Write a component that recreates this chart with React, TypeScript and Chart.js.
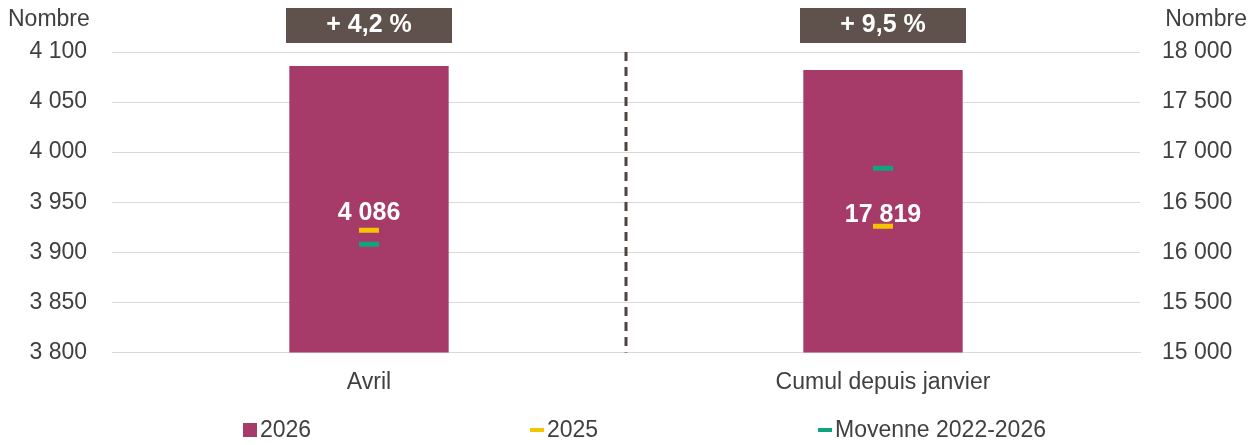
import React, { useEffect, useRef } from "react";
import { Chart, registerables } from "chart.js";
Chart.register(...registerables);

const categories = ["Avril", "Cumul depuis janvier"];
const values2026Left = [4086, null];
const values2026Right = [null, 17819];
const values2025Left = [3922, null];
const values2025Right = [null, 16260];
const avgLeft = [3908, null];
const avgRight = [null, 16840];
const labels2026 = ["4 086", "17 819"];
const evolutions = ["+ 4,2 %", "+ 9,5 %"];
const legendItems = [
  { label: "2026", color: "#a63a69", kind: "box" },
  { label: "2025", color: "#f5c400", kind: "dash" },
  { label: "Moyenne 2022-2026", color: "#10a37f", kind: "dash" },
];

const fmt = (v: number) => v.toLocaleString("fr-FR").replace(/\u202f|\u00a0/g, " ");
const FONT = "Arial, 'Liberation Sans', sans-serif";

export default function App() {
  const ref = useRef<HTMLCanvasElement>(null);
  useEffect(() => {
    const plugin = {
      id: "deco",
      afterDatasetsDraw(chart: any) {
        const { ctx, chartArea, scales } = chart;
        const x = scales.x;
        ctx.save();
        const mid = (x.getPixelForValue(0) + x.getPixelForValue(1)) / 2;
        ctx.strokeStyle = "#4d4440";
        ctx.lineWidth = 3;
        ctx.setLineDash([9, 6]);
        ctx.beginPath();
        ctx.moveTo(mid, chartArea.top);
        ctx.lineTo(mid, chartArea.bottom);
        ctx.stroke();
        ctx.setLineDash([]);
        categories.forEach((_, i) => {
          const cx = x.getPixelForValue(i);
          ctx.fillStyle = "#5f524c";
          ctx.fillRect(cx - 83, -3, 166, 38);
          ctx.fillStyle = "#fff";
          ctx.font = `bold 25px ${FONT}`;
          ctx.textAlign = "center";
          ctx.textBaseline = "middle";
          ctx.fillText(evolutions[i], cx, 17);
        });
        ctx.fillStyle = "#404040";
        ctx.font = `23px ${FONT}`;
        ctx.textBaseline = "middle";
        ctx.textAlign = "left";
        ctx.fillText("Nombre", 0, 12);
        ctx.textAlign = "right";
        ctx.fillText("Nombre", chart.width, 12);
        const lx = [235, 522, 810];
        const ly = 422;
        legendItems.forEach((it, i) => {
          ctx.fillStyle = it.color;
          if (it.kind === "box") ctx.fillRect(lx[i], ly - 7, 14, 14);
          else ctx.fillRect(lx[i], ly - 2, 14, 4);
          ctx.fillStyle = "#404040";
          ctx.textAlign = "left";
          ctx.font = `23px ${FONT}`;
          ctx.fillText(it.label, lx[i] + 17, ly + 1);
        });
        ctx.restore();
      },
    };
    const labelPlugin = {
      id: "barLabels",
      afterDatasetDraw(chart: any, args: any) {
        if (args.index !== 0) return;
        const { ctx, scales } = chart;
        ctx.save();
        ctx.fillStyle = "#fff";
        ctx.font = `bold 25px ${FONT}`;
        ctx.textAlign = "center";
        ctx.textBaseline = "middle";
        ctx.fillText(labels2026[0], scales.x.getPixelForValue(0), scales.y.getPixelForValue(3939));
        ctx.fillText(labels2026[1], scales.x.getPixelForValue(1), scales.y1.getPixelForValue(16370));
        ctx.restore();
      },
    };
    const marker = (data: any[], color: string, axis: string) => ({
      type: "line" as const,
      data,
      yAxisID: axis,
      order: 0,
      showLine: false,
      pointStyle: "line",
      pointRadius: 10,
      pointBorderWidth: 5,
      borderColor: color,
      backgroundColor: color,
      pointHoverRadius: 10,
    });
    const chart = new Chart(ref.current!, {
      type: "bar",
      data: {
        labels: categories,
        datasets: [
          { data: values2026Left, yAxisID: "y", order: 2, backgroundColor: "#a63a69", barPercentage: 0.31, categoryPercentage: 1, grouped: false } as any,
          { data: values2026Right, yAxisID: "y1", order: 2, backgroundColor: "#a63a69", barPercentage: 0.31, categoryPercentage: 1, grouped: false } as any,
          marker(values2025Left, "#f5c400", "y"),
          marker(values2025Right, "#f5c400", "y1"),
          marker(avgLeft, "#10a37f", "y"),
          marker(avgRight, "#10a37f", "y1"),
        ],
      },
      options: {
        animation: false,
        responsive: true,
        maintainAspectRatio: false,
        layout: { padding: { top: 44, bottom: 33, left: 0, right: 0 } },
        plugins: { legend: { display: false }, tooltip: { enabled: false } },
        scales: {
          x: {
            grid: { display: false },
            border: { color: "#d9d9d9" },
            ticks: { color: "#404040", font: { size: 23, family: FONT }, padding: 8 },
          },
          y: {
            min: 3800, max: 4100,
            ticks: { stepSize: 50, color: "#404040", font: { size: 23, family: FONT }, callback: (v: any) => fmt(v), padding: 25 },
            grid: { color: "#d9d9d9", drawTicks: false },
            border: { display: false },
            afterFit: (s: any) => { s.width = 104; },
          },
          y1: {
            position: "right",
            min: 15000, max: 18000,
            ticks: { stepSize: 500, color: "#404040", font: { size: 23, family: FONT }, callback: (v: any) => fmt(v), padding: 22 },
            grid: { display: false, drawTicks: false },
            border: { display: false },
            afterFit: (s: any) => { s.width = 107; },
          },
        },
      } as any,
      plugins: [plugin, labelPlugin],
    });
    return () => chart.destroy();
  }, []);
  return (
    <div style={{ width: 1239, height: 429 }}>
      <canvas ref={ref} />
    </div>
  );
}
